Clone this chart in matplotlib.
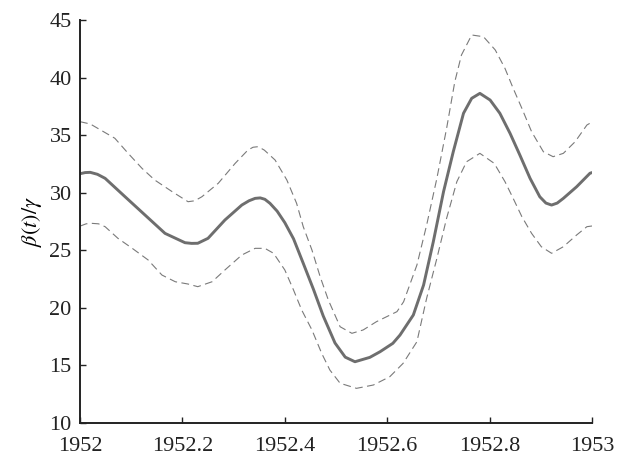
import numpy as np
import matplotlib
matplotlib.use('Agg')
import matplotlib.pyplot as plt

plt.rcParams['font.family'] = ['Liberation Serif', 'DejaVu Serif']
plt.rcParams['mathtext.fontset'] = 'stix'

# estimate of beta(t)/gamma
t_mid = [1952.000, 1952.010, 1952.020, 1952.034, 1952.049, 1952.088, 1952.127,
         1952.166, 1952.205, 1952.218, 1952.230, 1952.250, 1952.283, 1952.316,
         1952.330, 1952.342, 1952.352, 1952.361, 1952.371, 1952.385, 1952.400,
         1952.417, 1952.436, 1952.456, 1952.475, 1952.498, 1952.518, 1952.537,
         1952.566, 1952.586, 1952.611, 1952.625, 1952.651, 1952.671, 1952.690,
         1952.710, 1952.729, 1952.749, 1952.765, 1952.781, 1952.801, 1952.820,
         1952.840, 1952.859, 1952.879, 1952.898, 1952.910, 1952.921, 1952.932,
         1952.944, 1952.970, 1952.996, 1953.000]
beta_mid = [31.65, 31.75, 31.77, 31.60, 31.25, 29.65, 28.06,
            26.47, 25.66, 25.60, 25.61, 26.04, 27.63, 28.93,
            29.30, 29.51, 29.55, 29.43, 29.08, 28.40, 27.40,
            26.00, 23.87, 21.60, 19.30, 16.95, 15.72, 15.32,
            15.70, 16.19, 16.92, 17.64, 19.38, 21.98, 25.74,
            30.09, 33.56, 36.90, 38.20, 38.63, 38.05, 36.90,
            35.15, 33.28, 31.25, 29.65, 29.10, 28.93, 29.10,
            29.51, 30.52, 31.69, 31.75]

# upper bound
t_up = [1952.000, 1952.020, 1952.068, 1952.094, 1952.121, 1952.146, 1952.180,
        1952.211, 1952.224, 1952.238, 1952.270, 1952.303, 1952.328, 1952.338,
        1952.348, 1952.360, 1952.381, 1952.404, 1952.423, 1952.436, 1952.453,
        1952.469, 1952.485, 1952.508, 1952.531, 1952.553, 1952.579, 1952.619,
        1952.632, 1952.658, 1952.677, 1952.697, 1952.716, 1952.732, 1952.745,
        1952.765, 1952.788, 1952.811, 1952.830, 1952.846, 1952.863, 1952.882,
        1952.905, 1952.924, 1952.944, 1952.967, 1952.990, 1953.000]
beta_up = [36.17, 35.97, 34.73, 33.42, 32.12, 31.10, 30.09,
           29.22, 29.30, 29.65, 30.82, 32.55, 33.71, 33.95,
           34.00, 33.70, 32.84, 31.10, 29.08, 27.05, 25.02,
           22.71, 20.68, 18.36, 17.79, 18.08, 18.80, 19.67,
           20.53, 23.72, 27.19, 31.25, 35.59, 39.64, 41.96,
           43.70, 43.55, 42.40, 40.80, 39.07, 37.33, 35.30,
           33.56, 33.13, 33.42, 34.43, 35.88, 36.14]

# lower bound
t_lo = [1952.000, 1952.012, 1952.023, 1952.036, 1952.049, 1952.074, 1952.102,
        1952.133, 1952.160, 1952.186, 1952.211, 1952.230, 1952.258, 1952.283,
        1952.316, 1952.342, 1952.361, 1952.378, 1952.400, 1952.417, 1952.433,
        1952.453, 1952.472, 1952.488, 1952.508, 1952.540, 1952.573, 1952.605,
        1952.631, 1952.658, 1952.677, 1952.697, 1952.716, 1952.736, 1952.755,
        1952.781, 1952.809, 1952.830, 1952.846, 1952.863, 1952.882, 1952.901,
        1952.921, 1952.944, 1952.970, 1952.990, 1953.000]
beta_lo = [27.10, 27.30, 27.34, 27.30, 27.05, 26.04, 25.17,
           24.16, 22.85, 22.27, 22.07, 21.84, 22.27, 23.29,
           24.59, 25.17, 25.17, 24.74, 23.29, 21.55, 19.81,
           18.08, 16.05, 14.60, 13.45, 13.01, 13.30, 14.02,
           15.18, 17.06, 20.83, 24.30, 27.78, 30.96, 32.69,
           33.42, 32.55, 30.96, 29.51, 27.92, 26.47, 25.31,
           24.74, 25.31, 26.33, 27.05, 27.11]

xticks = [1952, 1952.2, 1952.4, 1952.6, 1952.8, 1953]
xticklabels = ['1952', '1952.2', '1952.4', '1952.6', '1952.8', '1953']
yticks = [10, 15, 20, 25, 30, 35, 40, 45]

fig = plt.figure(figsize=(6.17, 4.57), dpi=100)
ax = fig.add_axes([0.1297, 0.0744, 0.8298, 0.8818])

ax.plot(t_up, beta_up, color='#7a7a7a', lw=0.8, dashes=(7, 4))
ax.plot(t_lo, beta_lo, color='#7a7a7a', lw=0.8, dashes=(7, 4))
ax.plot(t_mid, beta_mid, color='#6e6e6e', lw=2.1,
        solid_joinstyle='round', solid_capstyle='round')

ax.set_xlim(1952, 1953)
ax.set_ylim(10, 45)
ax.set_xticks(xticks)
ax.set_xticklabels(xticklabels)
ax.set_yticks(yticks)
ax.tick_params(direction='in', length=4, width=1, labelsize=16,
               colors='#222222')
ax.tick_params(axis='x', pad=10)
ax.tick_params(axis='y', pad=6)
ax.set_ylabel(r'$\beta(t)/\gamma$', fontsize=16, labelpad=4)

for s in ['top', 'right']:
    ax.spines[s].set_visible(False)
for s in ['left', 'bottom']:
    ax.spines[s].set_linewidth(1.4)
    ax.spines[s].set_color('#222222')

fig.savefig('out.png', dpi=100)
